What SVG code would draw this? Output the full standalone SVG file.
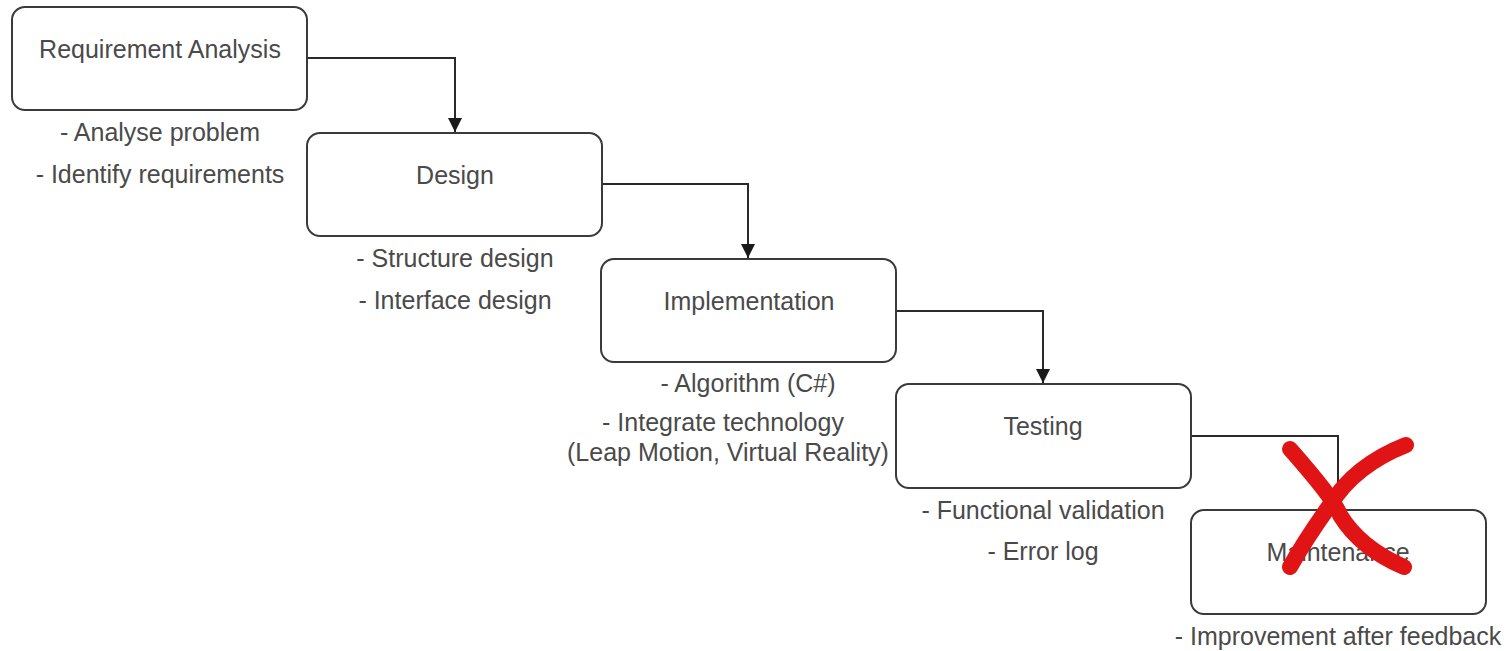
<svg xmlns="http://www.w3.org/2000/svg" width="1512" height="651" viewBox="0 0 1512 651">
  <style>
    .box { fill: #ffffff; stroke: #3a3a3a; stroke-width: 2; }
    .title { font-family: "Liberation Sans", Arial, sans-serif; font-size: 25px; fill: #4a4a4a; text-anchor: middle; }
    .note { font-family: "Liberation Sans", Arial, sans-serif; font-size: 25px; fill: #4a4a4a; text-anchor: middle; }
    .link { fill: none; stroke: #2a2a2a; stroke-width: 2; }
    .cross { fill: none; stroke: #e01414; stroke-width: 16; stroke-linecap: round; }
  </style>
  <defs>
    <marker id="arrow" viewBox="0 0 10 10" refX="10" refY="5" markerWidth="14" markerHeight="14" markerUnits="userSpaceOnUse" orient="auto">
      <path d="M0,0 L10,5 L0,10 z" fill="#1a1a1a"/>
    </marker>
  </defs>
  <rect width="1512" height="651" fill="#ffffff"/>

  <g id="connectors">
    <path class="link" d="M307,58 H455 V132" marker-end="url(#arrow)"/>
    <path class="link" d="M602,184 H748 V258" marker-end="url(#arrow)"/>
    <path class="link" d="M896,311 H1043 V383" marker-end="url(#arrow)"/>
    <path class="link" d="M1191,436 H1338 V509" marker-end="url(#arrow)"/>
  </g>

  <g id="requirement-analysis">
    <rect class="box" x="12" y="7" width="295" height="103" rx="13"/>
    <text class="title" x="160" y="58">Requirement Analysis</text>
    <text class="note" x="160" y="141">- Analyse problem</text>
    <text class="note" x="160" y="183">- Identify requirements</text>
  </g>

  <g id="design">
    <rect class="box" x="307" y="133" width="295" height="103" rx="13"/>
    <text class="title" x="455" y="184">Design</text>
    <text class="note" x="455" y="267">- Structure design</text>
    <text class="note" x="455" y="309">- Interface design</text>
  </g>

  <g id="implementation">
    <rect class="box" x="601" y="259" width="295" height="103" rx="13"/>
    <text class="title" x="749" y="310">Implementation</text>
    <text class="note" x="748" y="392">- Algorithm (C#)</text>
    <text class="note" x="723" y="431">- Integrate technology</text>
    <text class="note" x="728" y="461">(Leap Motion, Virtual Reality)</text>
  </g>

  <g id="testing">
    <rect class="box" x="896" y="384" width="295" height="104" rx="13"/>
    <text class="title" x="1043" y="435">Testing</text>
    <text class="note" x="1043" y="519">- Functional validation</text>
    <text class="note" x="1043" y="560">- Error log</text>
  </g>

  <g id="maintenance">
    <rect class="box" x="1191" y="510" width="295" height="104" rx="13"/>
    <text class="title" x="1338" y="561">Maintenance</text>
    <text class="note" x="1338" y="645">- Improvement after feedback</text>
  </g>

  <g id="cancel-mark">
    <path class="cross" d="M1290,449 Q1335,500 1340,515 Q1360,548 1404,567"/>
    <path class="cross" d="M1406,445 Q1355,465 1330,505 Q1305,540 1290,567"/>
  </g>
</svg>
